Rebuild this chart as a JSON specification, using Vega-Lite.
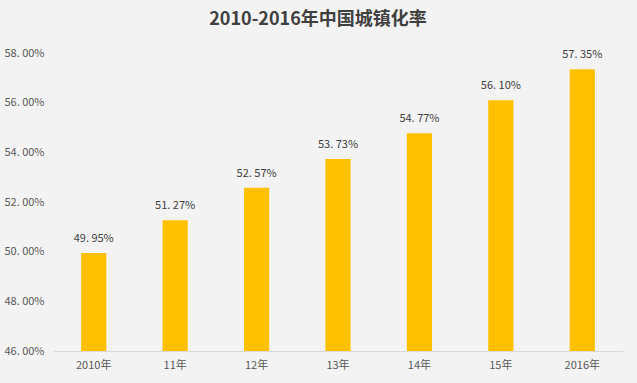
{
  "$schema": "https://vega.github.io/schema/vega-lite/v6.json",
  "width": 570,
  "height": 298,
  "autosize": {"type": "none"},
  "padding": {"left": 53, "top": 53, "right": 14, "bottom": 32},
  "background": "#f3f3f3",
  "title": {
    "text": "2010-2016年中国城镇化率",
    "font": "Noto Sans CJK SC",
    "fontSize": 18,
    "fontWeight": "bold",
    "color": "#404040",
    "anchor": "middle",
    "dx": -20,
    "offset": 18
  },
  "config": {
    "view": {"stroke": null},
    "axis": {"labelFont": "Noto Sans CJK SC", "labelFontSize": 11, "labelColor": "#595959", "titleFont": "Noto Sans CJK SC"}
  },
  "data": {
    "values": [
      {"year": "2010年", "rate": 49.95},
      {"year": "11年", "rate": 51.27},
      {"year": "12年", "rate": 52.57},
      {"year": "13年", "rate": 53.73},
      {"year": "14年", "rate": 54.77},
      {"year": "15年", "rate": 56.10},
      {"year": "2016年", "rate": 57.35}
    ]
  },
  "encoding": {
    "x": {
      "field": "year",
      "type": "nominal",
      "sort": null,
      "scale": {"paddingInner": 0.69, "paddingOuter": 0.345},
      "axis": {"title": null, "labelAngle": 0, "ticks": false, "domainColor": "#d9d9d9", "labelPadding": 8}
    },
    "y": {
      "field": "rate",
      "type": "quantitative",
      "scale": {"domain": [46, 58], "nice": false, "zero": false},
      "axis": {
        "title": null,
        "values": [46, 48, 50, 52, 54, 56, 58],
        "grid": false,
        "domain": false,
        "ticks": false,
        "labelPadding": 9,
        "labelExpr": "replace(format(datum.value, '.2f'), '.', '. ') + '%'"
      }
    }
  },
  "layer": [
    {"mark": {"type": "bar", "color": "#ffc000", "clip": true}},
    {
      "transform": [{"calculate": "replace(format(datum.rate, '.2f'), '.', '. ') + '%'", "as": "label"}],
      "mark": {"type": "text", "baseline": "bottom", "dy": -9, "font": "Noto Sans CJK SC", "fontSize": 11, "color": "#404040"},
      "encoding": {
        "text": {"field": "label", "type": "nominal"}
      }
    }
  ]
}
